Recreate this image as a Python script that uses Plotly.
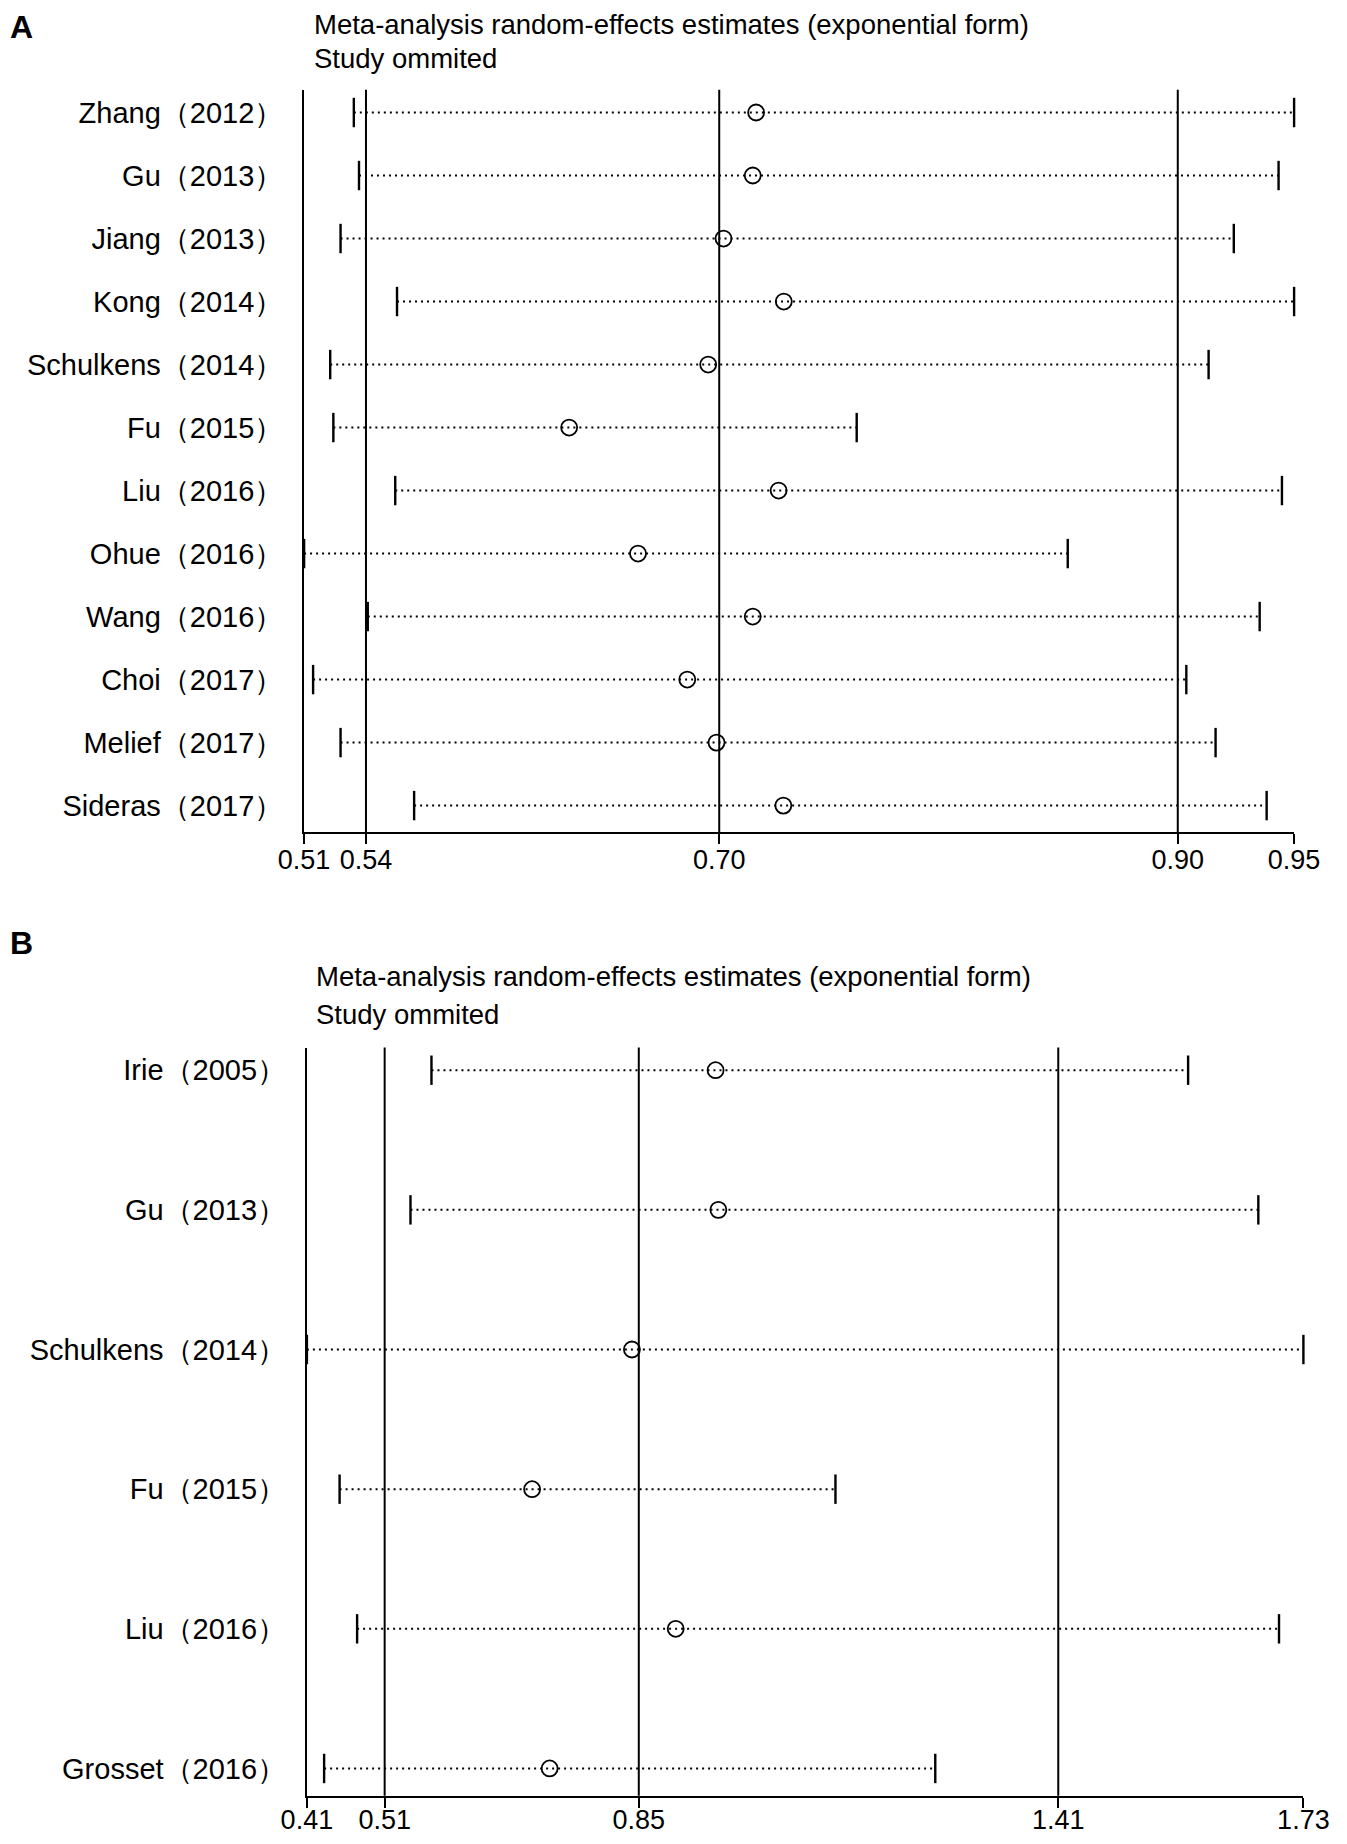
import plotly.graph_objects as go

# Panel A: study omitted, pooled estimate and 95% CI (exponential form)
studies_a = ["Zhang（2012）", "Gu（2013）", "Jiang（2013）", "Kong（2014）",
             "Schulkens（2014）", "Fu（2015）", "Liu（2016）", "Ohue（2016）",
             "Wang（2016）", "Choi（2017）", "Melief（2017）", "Sideras（2017）"]
lower_a = [0.5348, 0.5371, 0.5289, 0.5540, 0.5243, 0.5257,
           0.5532, 0.5127, 0.5410, 0.5167, 0.5289, 0.5616]
est_a = [0.7136, 0.7121, 0.6991, 0.7259, 0.6923, 0.6305,
         0.7236, 0.6611, 0.7121, 0.6830, 0.6960, 0.7257]
upper_a = [0.9527, 0.9458, 0.9259, 0.9527, 0.9147, 0.7583,
           0.9473, 0.8521, 0.9374, 0.9048, 0.9178, 0.9405]
overall_a = [0.5402, 0.6972, 0.9010]   # lower CI, estimate, upper CI
ticktext_a = ["0.51", "0.54", "0.70", "0.90", "0.95"]

# Panel B
studies_b = ["Irie（2005）", "Gu（2013）", "Schulkens（2014）",
             "Fu（2015）", "Liu（2016）", "Grosset（2016）"]
lower_b = [0.5759, 0.5481, 0.4109, 0.4542, 0.4774, 0.4337]
est_b = [0.9522, 0.9559, 0.8414, 0.7092, 0.8994, 0.7324]
upper_b = [1.5781, 1.6711, 1.7308, 1.1110, 1.6985, 1.2432]
overall_b = [0.5139, 0.8505, 1.4061]
ticktext_b = ["0.41", "0.51", "0.85", "1.41", "1.73"]

title_1 = "Meta-analysis random-effects estimates (exponential form)"
title_2 = "Study ommited"

FONT = "Liberation Sans, Arial, sans-serif"
OFF = 8                      # default body margin of the page
W, H = 1347 - 2 * OFF, 1844 - 2 * OFF


def px(v):
    return (v - OFF) / W


def py(v):
    return 1 - (v - OFF) / H


fig = go.Figure()


def add_panel(n, studies, lower, est, upper, overall, ticktext, xdom, ydom, pad,
              standoff):
    xa = "x" if n == 1 else "x%d" % n
    ya = "y" if n == 1 else "y%d" % n
    rows = list(range(1, len(studies) + 1))

    # dotted CI lines
    xs, ys = [], []
    for r, lo, hi in zip(rows, lower, upper):
        xs += [lo, hi, None]
        ys += [r, r, None]
    fig.add_trace(go.Scatter(x=xs, y=ys, mode="lines", xaxis=xa, yaxis=ya,
                             line=dict(color="black", width=2, dash="2px,4px"),
                             hoverinfo="skip"))
    # CI end caps
    fig.add_trace(go.Scatter(x=lower + upper, y=rows + rows, mode="markers",
                             xaxis=xa, yaxis=ya, cliponaxis=False,
                             marker=dict(symbol="line-ns", size=21,
                                         line=dict(color="black", width=2.4))))
    # point estimates
    fig.add_trace(go.Scatter(x=est, y=rows, mode="markers", xaxis=xa, yaxis=ya,
                             marker=dict(symbol="circle-open", size=16,
                                         color="black", line=dict(width=1.8))))

    # vertical lines at pooled estimate and CI
    for v in overall:
        fig.add_shape(type="line", xref=xa, yref=ya + " domain",
                      x0=v, x1=v, y0=0, y1=1,
                      line=dict(color="black", width=2))

    xmin, xmax = min(lower), max(upper)
    fig.layout[xa.replace("x", "xaxis")] = dict(
        domain=xdom, range=[xmin, xmax], anchor=ya, automargin=False,
        tickvals=[xmin] + overall + [xmax], ticktext=ticktext,
        showline=True, linecolor="black", linewidth=2,
        ticks="outside", ticklen=10, tickwidth=2, tickcolor="black",
        ticklabelstandoff=standoff,
        tickfont=dict(size=27, color="black", family=FONT),
        showgrid=False, zeroline=False)
    top, bottom = pad
    fig.layout[ya.replace("y", "yaxis")] = dict(
        domain=ydom, range=[len(studies) + bottom, 1 - top], anchor=xa,
        automargin=False, tickvals=rows, ticktext=studies,
        showline=True, linecolor="black", linewidth=2,
        ticks="outside", ticklen=13, tickcolor="rgba(0,0,0,0)",
        tickfont=dict(size=29, color="black", family=FONT),
        showgrid=False, zeroline=False)


add_panel(1, studies_a, lower_a, est_a, upper_a, overall_a, ticktext_a,
          [px(304.1), px(1294.1)], [py(832), py(89.7)], (0.362, 0.419), -7)
add_panel(2, studies_b, lower_b, est_b, upper_b, overall_b, ticktext_b,
          [px(306.9), px(1303.4)], [py(1795.7), py(1047.6)], (0.162, 0.195), -11)

# panel letters and titles (top row anchored to the top edge so nothing is clipped)
annots = [
    dict(text="<b>A</b>", x=OFF + 1, y=OFF, size=32, anchor="top"),
    dict(text=title_1, x=313, y=OFF, size=27.5, anchor="top"),
    dict(text=title_2, x=313, y=58, size=27.5, anchor="middle"),
    dict(text="<b>B</b>", x=OFF + 1, y=943, size=32, anchor="middle"),
    dict(text=title_1, x=315, y=976, size=27.5, anchor="middle"),
    dict(text=title_2, x=315, y=1014, size=27.5, anchor="middle"),
]
for a in annots:
    fig.add_annotation(text=a["text"], x=px(a["x"]), y=py(a["y"]),
                       xref="paper", yref="paper", borderpad=0,
                       xanchor="left", yanchor=a["anchor"], showarrow=False,
                       font=dict(size=a["size"], color="black", family=FONT))

fig.update_layout(template="none", width=W, height=H,
                  margin=dict(l=0, r=0, t=0, b=0, pad=0),
                  paper_bgcolor="white", plot_bgcolor="white", showlegend=False,
                  font=dict(family=FONT, color="black"))

fig.write_html("out.html")
